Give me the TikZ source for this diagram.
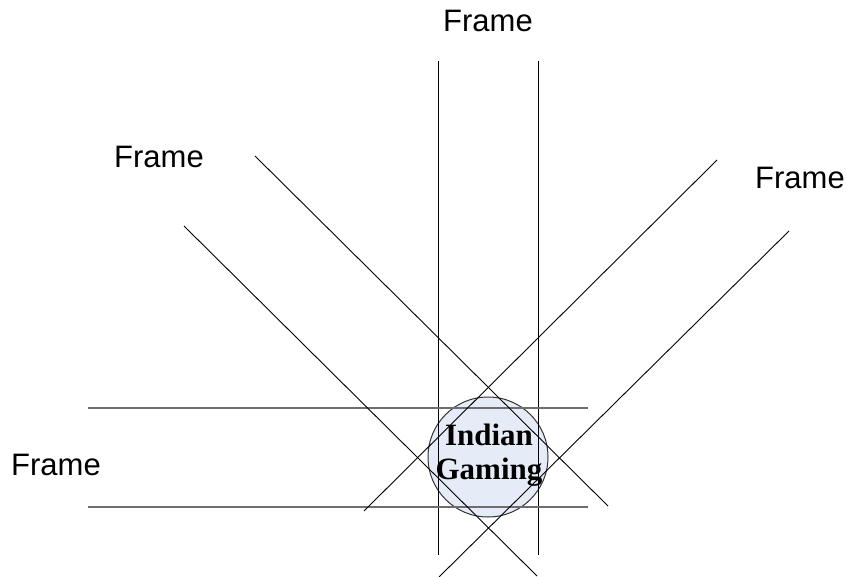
\documentclass[tikz,border=0pt]{standalone}
\usepackage{fontspec}
\setmainfont{Liberation Sans}
\newfontfamily\tnr{Liberation Serif}
\definecolor{circfill}{RGB}{230,236,247}
\definecolor{hline}{RGB}{110,110,110}
\begin{document}
\begin{tikzpicture}[x=1pt,y=-1pt,
  frm/.style={font=\fontsize{31}{36}\selectfont, inner sep=0pt, anchor=base},
  ln/.style={black, line width=0.9pt},
  hl/.style={hline, line width=1.3pt}]
\useasboundingbox (0,0) rectangle (846,577);
% circle
\node[circle, draw=black!80, line width=1pt, fill=circfill, minimum size=120pt, inner sep=0pt] (c) at (488,457) {};
% endpoints
\coordinate (v1t) at (438,61);  \coordinate (v1b) at (438,555);
\coordinate (v2t) at (538,61);  \coordinate (v2b) at (538,555);
\coordinate (h1l) at (88,408);  \coordinate (h1r) at (588,408);
\coordinate (h2l) at (88,507);  \coordinate (h2r) at (588,507);
\coordinate (a1) at (255,156);  \coordinate (a2) at (608,506);
\coordinate (b1) at (184,226);  \coordinate (b2) at (537,576);
\coordinate (c1) at (717,160);  \coordinate (c2) at (364,511);
\coordinate (d1) at (789,231);  \coordinate (d2) at (439,577);
\draw[ln] (v1t) -- (v1b);
\draw[ln] (v2t) -- (v2b);
\draw[hl] (h1l) -- (h1r);
\draw[hl] (h2l) -- (h2r);
\draw[ln] (a1) -- (a2);
\draw[ln] (b1) -- (b2);
\draw[ln] (c1) -- (c2);
\draw[ln] (d1) -- (d2);
% text
\node[font=\tnr\bfseries\fontsize{31}{34}\selectfont, align=center, inner sep=0pt] (ig) at (489,455) {Indian\\Gaming};
\node[frm] (ft) at (488,32) {Frame};
\node[frm] (fl) at (159,168) {Frame};
\node[frm] (fr) at (800,189) {Frame};
\node[frm] (fb) at (56,475) {Frame};
\end{tikzpicture}
\end{document}
